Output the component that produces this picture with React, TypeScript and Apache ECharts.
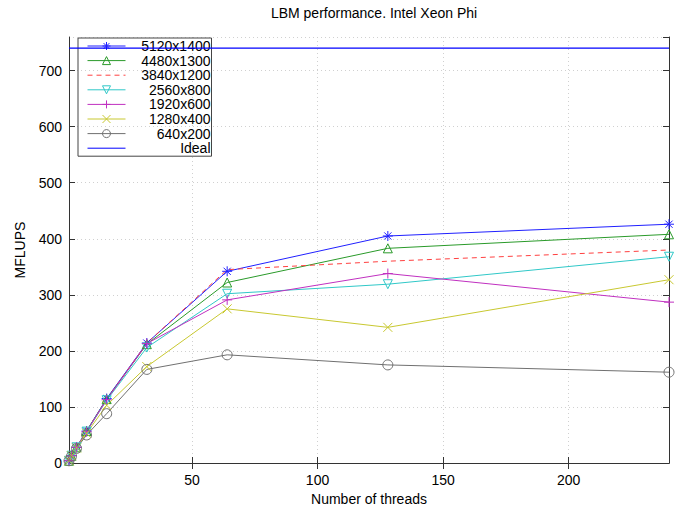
import React, { useEffect, useRef } from "react";
import * as echarts from "echarts";

const threads = [1, 2, 4, 8, 16, 32, 64, 128, 240];
const s5120x1400 = [4, 13, 28, 57, 115, 214, 342, 405, 426];
const s4480x1300 = [4, 13, 28, 57, 114, 212, 322, 383, 408];
const s3840x1200 = [4, 13, 28, 57, 113, 214, 345, 360, 380];
const s2560x800 = [4, 13, 28, 56, 112, 206, 302, 319, 368];
const s1920x600 = [4, 13, 28, 56, 113, 213, 291, 338, 287];
const s1280x400 = [4, 13, 27, 53, 103, 172, 275, 242, 327];
const s640x200 = [4, 12, 26, 50, 88, 167, 193, 175, 162];
const idealValue = 740;
const idealX = [1, 240];
const xTicks = [50, 100, 150, 200];
const legendNames = ["5120x1400", "4480x1300", "3840x1200", "2560x800", "1920x600", "1280x400", "640x200", "Ideal"];
const noSymbolNames = ["3840x1200", "Ideal"];

const FONT = "'Liberation Sans', Arial, Helvetica, sans-serif";

const ASTERISK = "path://M-5,0L5,0M0,-5L0,5M-3.6,-3.6L3.6,3.6M-3.6,3.6L3.6,-3.6";
const TRI_DOWN = "path://M-5,-4L5,-4L0,5Z";
const PLUS = "path://M-5,0L5,0M0,-5L0,5";
const CROSS = "path://M-4,-4L4,4M-4,4L4,-4";

function pairs(vals: number[]) {
  return threads.map((t, i) => [t, vals[i]]);
}

function mkSeries(name: string, vals: number[], color: string, symbol: string, size: number, dashed = false) {
  return {
    name,
    type: "line",
    data: pairs(vals),
    symbol,
    symbolSize: size,
    showSymbol: symbol !== "none",
    lineStyle: { color, width: 1, type: dashed ? [5, 4] : "solid" },
    itemStyle: { color: "transparent", borderColor: color, borderWidth: 1 },
    emphasis: { disabled: true },
    z: 3,
  };
}

export default function App() {
  const ref = useRef<HTMLDivElement>(null);
  useEffect(() => {
    if (!ref.current) return;
    const chart = echarts.init(ref.current, null, { renderer: "svg" });
    const axisLineStyle = { color: "#333", width: 1 };
    const splitStyle = { color: "#d0d0d0", width: 1, type: [1, 3] as any };
    const option: any = {
      animation: false,
      backgroundColor: "#fff",
      textStyle: { fontFamily: FONT },
      title: {
        text: "LBM performance. Intel Xeon Phi",
        left: 369,
        top: 1,
        textAlign: "center",
        textStyle: { fontSize: 14, fontWeight: "normal", color: "#000", fontFamily: FONT },
      },
      grid: { left: 69, right: 12, top: 37, bottom: 48, show: false },
      legend: {
        left: 78,
        top: 38,
        orient: "vertical",
        itemWidth: 38,
        itemHeight: 10,
        itemGap: 0.6,
        padding: [1, 1, 1, 9],
        borderColor: "#444",
        borderWidth: 1,
        selectedMode: false,
        itemStyle: { color: "transparent", borderColor: "inherit", borderWidth: 1 },
        lineStyle: { width: 1 },
        formatter: "{a|{name}}",
        textStyle: {
          fontFamily: FONT,
          fontSize: 14,
          color: "#000",
          rich: { a: { width: 80, align: "right", fontSize: 14, lineHeight: 14, color: "#000", fontFamily: FONT } },
        },
        data: legendNames.map((n) =>
          noSymbolNames.indexOf(n) >= 0 ? { name: n, itemStyle: { borderWidth: 0, opacity: 0 } } : { name: n }
        ),
      },
      xAxis: [
        {
          type: "value",
          min: 1,
          max: 240,
          position: "bottom",
          name: "Number of threads",
          nameLocation: "middle",
          nameGap: 27,
          nameTextStyle: { fontSize: 14, color: "#000", fontFamily: FONT },
          axisLine: { show: true, lineStyle: axisLineStyle },
          axisTick: { show: true, inside: true, length: 6, customValues: xTicks, lineStyle: axisLineStyle },
          axisLabel: { customValues: xTicks, fontSize: 14, color: "#000", margin: 10, fontFamily: FONT },
          splitLine: { show: true, lineStyle: splitStyle },
        },
        {
          type: "value",
          min: 1,
          max: 240,
          position: "top",
          axisLine: { show: true, lineStyle: axisLineStyle },
          axisTick: { show: true, inside: true, length: 6, customValues: xTicks, lineStyle: axisLineStyle },
          axisLabel: { show: false },
          splitLine: { show: false },
        },
      ],
      yAxis: [
        {
          type: "value",
          min: 0,
          max: 760,
          interval: 100,
          position: "left",
          name: "MFLUPS",
          nameLocation: "middle",
          nameGap: 42,
          nameTextStyle: { fontSize: 14, color: "#000", fontFamily: FONT },
          axisLine: { show: true, lineStyle: axisLineStyle },
          axisTick: { show: true, inside: true, length: 6, lineStyle: axisLineStyle },
          axisLabel: { fontSize: 14, color: "#000", margin: 7, showMaxLabel: false, fontFamily: FONT },
          splitLine: { show: true, lineStyle: splitStyle },
        },
        {
          type: "value",
          min: 0,
          max: 760,
          interval: 100,
          position: "right",
          axisLine: { show: true, lineStyle: axisLineStyle },
          axisTick: { show: true, inside: true, length: 6, lineStyle: axisLineStyle },
          axisLabel: { show: false },
          splitLine: { show: false },
        },
      ],
      series: [
        mkSeries("5120x1400", s5120x1400, "#2020ff", ASTERISK, 10),
        mkSeries("4480x1300", s4480x1300, "#2a9a2a", "triangle", 9),
        mkSeries("3840x1200", s3840x1200, "#ff4040", "none", 0, true),
        mkSeries("2560x800", s2560x800, "#30c8c8", TRI_DOWN, 9),
        mkSeries("1920x600", s1920x600, "#c030c0", PLUS, 10),
        mkSeries("1280x400", s1280x400, "#c8c830", CROSS, 9),
        mkSeries("640x200", s640x200, "#707070", "circle", 10),
        {
          name: "Ideal",
          type: "line",
          data: idealX.map((x) => [x, idealValue]),
          symbol: "none",
          showSymbol: false,
          lineStyle: { color: "#0000ff", width: 1.3 },
          itemStyle: { color: "#0000ff" },
          emphasis: { disabled: true },
          z: 4,
        },
      ],
    };
    chart.setOption(option);
    return () => chart.dispose();
  }, []);
  return <div ref={ref} style={{ width: 681, height: 511, position: "absolute", left: 0, top: 0 }} />;
}
